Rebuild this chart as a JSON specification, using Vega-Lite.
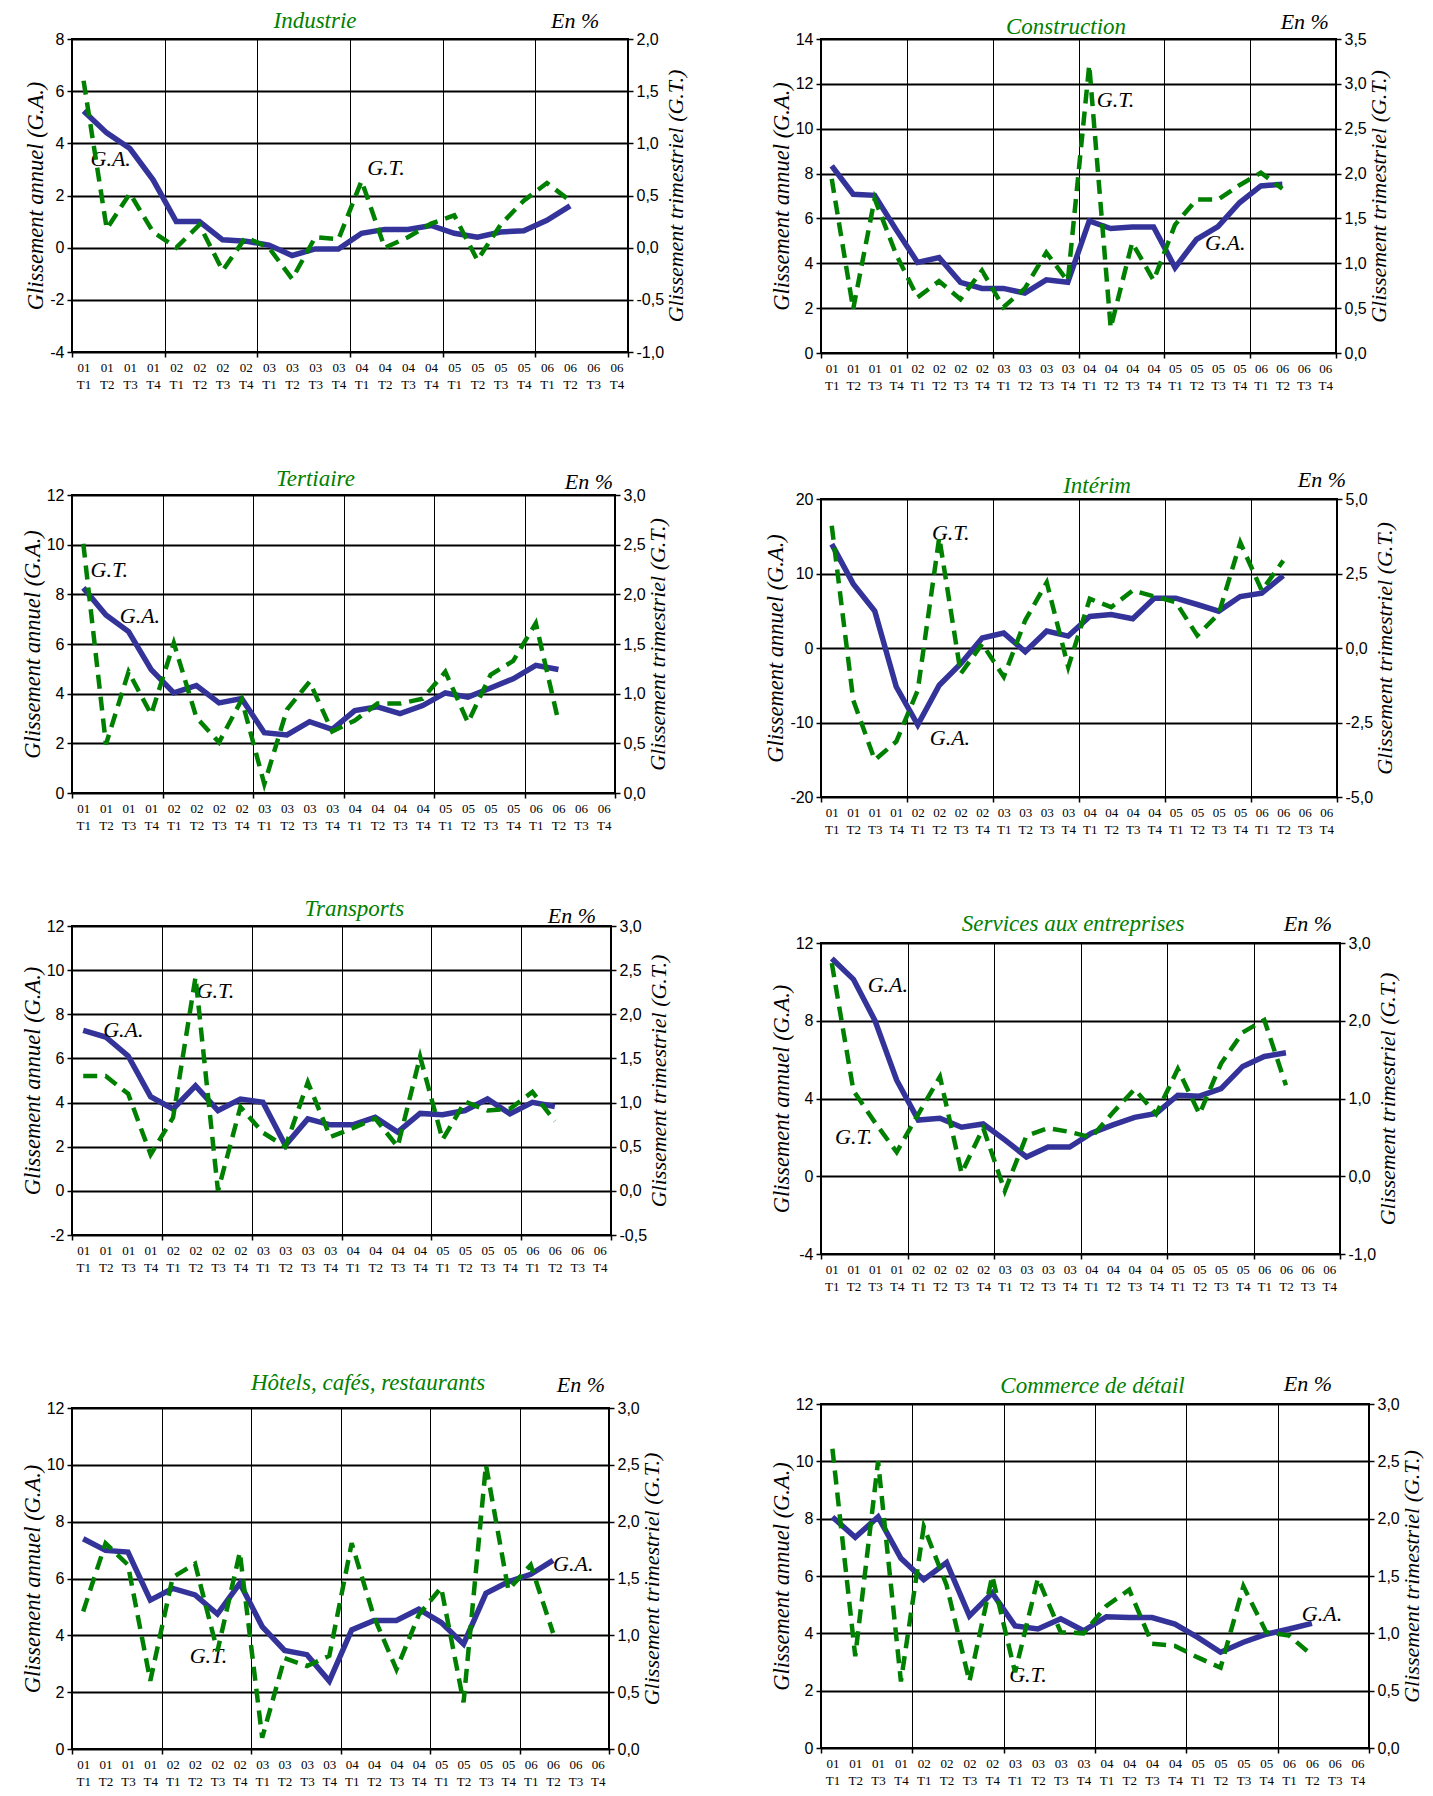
{
"$schema": "https://vega.github.io/schema/vega-lite/v6.json",
"background": "white",
"padding": {"left": 20, "top": 9, "right": 5, "bottom": 5},
"datasets": {
"industrie": [
{"q":"01 T1","i":0,"ga":5.24,"gt":1.6},{"q":"01 T2","i":1,"ga":4.4,"gt":0.18},{"q":"01 T3","i":2,"ga":3.8,"gt":0.52},{"q":"01 T4","i":3,"ga":2.6,"gt":0.15},
{"q":"02 T1","i":4,"ga":1.0,"gt":0.0},{"q":"02 T2","i":5,"ga":1.0,"gt":0.22},{"q":"02 T3","i":6,"ga":0.3,"gt":-0.22},{"q":"02 T4","i":7,"ga":0.25,"gt":0.1},
{"q":"03 T1","i":8,"ga":0.1,"gt":0.0},{"q":"03 T2","i":9,"ga":-0.3,"gt":-0.3},{"q":"03 T3","i":10,"ga":-0.05,"gt":0.1},{"q":"03 T4","i":11,"ga":-0.05,"gt":0.08},
{"q":"04 T1","i":12,"ga":0.55,"gt":0.64},{"q":"04 T2","i":13,"ga":0.7,"gt":0.0},{"q":"04 T3","i":14,"ga":0.7,"gt":0.1},{"q":"04 T4","i":15,"ga":0.85,"gt":0.23},
{"q":"05 T1","i":16,"ga":0.55,"gt":0.31},{"q":"05 T2","i":17,"ga":0.4,"gt":-0.12},{"q":"05 T3","i":18,"ga":0.6,"gt":0.22},{"q":"05 T4","i":19,"ga":0.65,"gt":0.45},
{"q":"06 T1","i":20,"ga":1.05,"gt":0.62},{"q":"06 T2","i":21,"ga":1.6,"gt":0.45}],
"construction": [
{"q":"01 T1","i":0,"ga":8.34,"gt":1.94},{"q":"01 T2","i":1,"ga":7.08,"gt":0.49},{"q":"01 T3","i":2,"ga":7.03,"gt":1.72},{"q":"01 T4","i":3,"ga":5.5,"gt":1.1},
{"q":"02 T1","i":4,"ga":4.04,"gt":0.62},{"q":"02 T2","i":5,"ga":4.26,"gt":0.8},{"q":"02 T3","i":6,"ga":3.15,"gt":0.6},{"q":"02 T4","i":7,"ga":2.88,"gt":0.92},
{"q":"03 T1","i":8,"ga":2.88,"gt":0.51},{"q":"03 T2","i":9,"ga":2.67,"gt":0.72},{"q":"03 T3","i":10,"ga":3.26,"gt":1.12},{"q":"03 T4","i":11,"ga":3.15,"gt":0.8},
{"q":"04 T1","i":12,"ga":5.89,"gt":3.21},{"q":"04 T2","i":13,"ga":5.55,"gt":0.28},{"q":"04 T3","i":14,"ga":5.62,"gt":1.23},{"q":"04 T4","i":15,"ga":5.62,"gt":0.81},
{"q":"05 T1","i":16,"ga":3.81,"gt":1.43},{"q":"05 T2","i":17,"ga":5.07,"gt":1.71},{"q":"05 T3","i":18,"ga":5.64,"gt":1.71},{"q":"05 T4","i":19,"ga":6.7,"gt":1.87},
{"q":"06 T1","i":20,"ga":7.45,"gt":2.01},{"q":"06 T2","i":21,"ga":7.52,"gt":1.83}],
"tertiaire": [
{"q":"01 T1","i":0,"ga":8.26,"gt":2.51},{"q":"01 T2","i":1,"ga":7.17,"gt":0.49},{"q":"01 T3","i":2,"ga":6.5,"gt":1.22},{"q":"01 T4","i":3,"ga":4.97,"gt":0.79},
{"q":"02 T1","i":4,"ga":4.03,"gt":1.51},{"q":"02 T2","i":5,"ga":4.33,"gt":0.76},{"q":"02 T3","i":6,"ga":3.63,"gt":0.51},{"q":"02 T4","i":7,"ga":3.8,"gt":0.94},
{"q":"03 T1","i":8,"ga":2.43,"gt":0.09},{"q":"03 T2","i":9,"ga":2.34,"gt":0.84},{"q":"03 T3","i":10,"ga":2.87,"gt":1.12},{"q":"03 T4","i":11,"ga":2.56,"gt":0.62},
{"q":"04 T1","i":12,"ga":3.32,"gt":0.73},{"q":"04 T2","i":13,"ga":3.47,"gt":0.9},{"q":"04 T3","i":14,"ga":3.2,"gt":0.9},{"q":"04 T4","i":15,"ga":3.52,"gt":0.95},
{"q":"05 T1","i":16,"ga":4.03,"gt":1.22},{"q":"05 T2","i":17,"ga":3.86,"gt":0.71},{"q":"05 T3","i":18,"ga":4.23,"gt":1.19},{"q":"05 T4","i":19,"ga":4.6,"gt":1.33},
{"q":"06 T1","i":20,"ga":5.14,"gt":1.71},{"q":"06 T2","i":21,"ga":4.97,"gt":0.72}],
"interim": [
{"q":"01 T1","i":0,"ga":13.95,"gt":4.1},{"q":"01 T2","i":1,"ga":8.6,"gt":-1.75},{"q":"01 T3","i":2,"ga":4.95,"gt":-3.76},{"q":"01 T4","i":3,"ga":-5.2,"gt":-3.14},
{"q":"02 T1","i":4,"ga":-10.3,"gt":-1.42},{"q":"02 T2","i":5,"ga":-5.0,"gt":3.71},{"q":"02 T3","i":6,"ga":-2.1,"gt":-0.86},{"q":"02 T4","i":7,"ga":1.34,"gt":0.14},
{"q":"03 T1","i":8,"ga":2.0,"gt":-0.97},{"q":"03 T2","i":9,"ga":-0.5,"gt":0.93},{"q":"03 T3","i":10,"ga":2.27,"gt":2.2},{"q":"03 T4","i":11,"ga":1.6,"gt":-0.64},
{"q":"04 T1","i":12,"ga":4.24,"gt":1.65},{"q":"04 T2","i":13,"ga":4.5,"gt":1.37},{"q":"04 T3","i":14,"ga":3.92,"gt":1.93},{"q":"04 T4","i":15,"ga":6.69,"gt":1.73},
{"q":"05 T1","i":16,"ga":6.69,"gt":1.54},{"q":"05 T2","i":17,"ga":5.84,"gt":0.42},{"q":"05 T3","i":18,"ga":4.95,"gt":1.15},{"q":"05 T4","i":19,"ga":6.9,"gt":3.54},
{"q":"06 T1","i":20,"ga":7.36,"gt":1.93},{"q":"06 T2","i":21,"ga":9.72,"gt":2.93}],
"transports": [
{"q":"01 T1","i":0,"ga":7.27,"gt":1.3},{"q":"01 T2","i":1,"ga":6.97,"gt":1.3},{"q":"01 T3","i":2,"ga":6.11,"gt":1.1},{"q":"01 T4","i":3,"ga":4.27,"gt":0.41},
{"q":"02 T1","i":4,"ga":3.71,"gt":0.83},{"q":"02 T2","i":5,"ga":4.76,"gt":2.42},{"q":"02 T3","i":6,"ga":3.64,"gt":0.0},{"q":"02 T4","i":7,"ga":4.16,"gt":0.95},
{"q":"03 T1","i":8,"ga":4.01,"gt":0.66},{"q":"03 T2","i":9,"ga":2.06,"gt":0.5},{"q":"03 T3","i":10,"ga":3.26,"gt":1.23},{"q":"03 T4","i":11,"ga":2.99,"gt":0.61},
{"q":"04 T1","i":12,"ga":2.99,"gt":0.71},{"q":"04 T2","i":13,"ga":3.33,"gt":0.82},{"q":"04 T3","i":14,"ga":2.66,"gt":0.5},{"q":"04 T4","i":15,"ga":3.51,"gt":1.52},
{"q":"05 T1","i":16,"ga":3.45,"gt":0.58},{"q":"05 T2","i":17,"ga":3.64,"gt":1.01},{"q":"05 T3","i":18,"ga":4.16,"gt":0.91},{"q":"05 T4","i":19,"ga":3.49,"gt":0.93},
{"q":"06 T1","i":20,"ga":4.01,"gt":1.12},{"q":"06 T2","i":21,"ga":3.82,"gt":0.79}],
"services": [
{"q":"01 T1","i":0,"ga":11.2,"gt":2.74},{"q":"01 T2","i":1,"ga":10.13,"gt":1.1},{"q":"01 T3","i":2,"ga":8.0,"gt":0.69},{"q":"01 T4","i":3,"ga":4.94,"gt":0.31},
{"q":"02 T1","i":4,"ga":2.89,"gt":0.8},{"q":"02 T2","i":5,"ga":2.98,"gt":1.28},{"q":"02 T3","i":6,"ga":2.52,"gt":0.04},{"q":"02 T4","i":7,"ga":2.69,"gt":0.62},
{"q":"03 T1","i":8,"ga":1.87,"gt":-0.19},{"q":"03 T2","i":9,"ga":0.99,"gt":0.52},{"q":"03 T3","i":10,"ga":1.5,"gt":0.62},{"q":"03 T4","i":11,"ga":1.5,"gt":0.57},
{"q":"04 T1","i":12,"ga":2.21,"gt":0.5},{"q":"04 T2","i":13,"ga":2.64,"gt":0.82},{"q":"04 T3","i":14,"ga":3.03,"gt":1.12},{"q":"04 T4","i":15,"ga":3.23,"gt":0.8},
{"q":"05 T1","i":16,"ga":4.17,"gt":1.38},{"q":"05 T2","i":17,"ga":4.12,"gt":0.8},{"q":"05 T3","i":18,"ga":4.51,"gt":1.45},{"q":"05 T4","i":19,"ga":5.65,"gt":1.85},
{"q":"06 T1","i":20,"ga":6.16,"gt":2.01},{"q":"06 T2","i":21,"ga":6.35,"gt":1.17}],
"hotels": [
{"q":"01 T1","i":0,"ga":7.4,"gt":1.21},{"q":"01 T2","i":1,"ga":6.99,"gt":1.81},{"q":"01 T3","i":2,"ga":6.93,"gt":1.62},{"q":"01 T4","i":3,"ga":5.24,"gt":0.6},
{"q":"02 T1","i":4,"ga":5.65,"gt":1.51},{"q":"02 T2","i":5,"ga":5.42,"gt":1.63},{"q":"02 T3","i":6,"ga":4.75,"gt":0.86},{"q":"02 T4","i":7,"ga":5.83,"gt":1.73},
{"q":"03 T1","i":8,"ga":4.31,"gt":0.1},{"q":"03 T2","i":9,"ga":3.47,"gt":0.8},{"q":"03 T3","i":10,"ga":3.32,"gt":0.73},{"q":"03 T4","i":11,"ga":2.39,"gt":0.82},
{"q":"04 T1","i":12,"ga":4.19,"gt":1.81},{"q":"04 T2","i":13,"ga":4.52,"gt":1.16},{"q":"04 T3","i":14,"ga":4.52,"gt":0.7},{"q":"04 T4","i":15,"ga":4.92,"gt":1.18},
{"q":"05 T1","i":16,"ga":4.45,"gt":1.42},{"q":"05 T2","i":17,"ga":3.69,"gt":0.41},{"q":"05 T3","i":18,"ga":5.48,"gt":2.5},{"q":"05 T4","i":19,"ga":5.88,"gt":1.4},
{"q":"06 T1","i":20,"ga":6.15,"gt":1.62},{"q":"06 T2","i":21,"ga":6.64,"gt":1.02}],
"commerce": [
{"q":"01 T1","i":0,"ga":8.06,"gt":2.61},{"q":"01 T2","i":1,"ga":7.35,"gt":0.8},{"q":"01 T3","i":2,"ga":8.06,"gt":2.5},{"q":"01 T4","i":3,"ga":6.62,"gt":0.58},
{"q":"02 T1","i":4,"ga":5.87,"gt":1.93},{"q":"02 T2","i":5,"ga":6.47,"gt":1.42},{"q":"02 T3","i":6,"ga":4.61,"gt":0.58},{"q":"02 T4","i":7,"ga":5.41,"gt":1.5},
{"q":"03 T1","i":8,"ga":4.26,"gt":0.66},{"q":"03 T2","i":9,"ga":4.15,"gt":1.48},{"q":"03 T3","i":10,"ga":4.51,"gt":1.01},{"q":"03 T4","i":11,"ga":4.09,"gt":1.0},
{"q":"04 T1","i":12,"ga":4.58,"gt":1.24},{"q":"04 T2","i":13,"ga":4.55,"gt":1.38},{"q":"04 T3","i":14,"ga":4.55,"gt":0.91},{"q":"04 T4","i":15,"ga":4.32,"gt":0.89},
{"q":"05 T1","i":16,"ga":3.86,"gt":0.79},{"q":"05 T2","i":17,"ga":3.34,"gt":0.7},{"q":"05 T3","i":18,"ga":3.69,"gt":1.41},{"q":"05 T4","i":19,"ga":3.97,"gt":1.01},
{"q":"06 T1","i":20,"ga":4.15,"gt":0.98},{"q":"06 T2","i":21,"ga":4.35,"gt":0.81}]
},
"spacing": 75,
"hconcat": [
{"spacing": 64, "vconcat": [
{"width": 556, "height": 313,
 "data": {"name": "industrie"},
 "encoding": {"x": {"field": "i", "type": "quantitative", "scale": {"domain": [-0.5, 23.5], "nice": false, "zero": false},
   "axis": {"orient": "bottom", "values": [-0.5,0,1,2,3,3.5,4,5,6,7,7.5,8,9,10,11,11.5,12,13,14,15,15.5,16,17,18,19,19.5,20,21,22,23,23.5],
     "labelExpr": "datum.value % 1 === 0 ? ['0' + (floor(datum.value / 4) + 1), 'T' + (datum.value % 4 + 1)] : ''",
     "labelOverlap": false, "labelBound": false, "labelFlush": false, "labelFont": "Liberation Serif", "labelFontSize": 13, "labelLineHeight": 17, "labelBaseline": "top", "labelPadding": 4,
     "grid": true, "gridWidth": 1, "gridOpacity": {"condition": {"test": "datum.value % 1 !== 0", "value": 1}, "value": 0},
     "tickOpacity": {"condition": {"test": "datum.value % 1 !== 0", "value": 1}, "value": 0},
     "title": " ", "titleFontSize": 1, "titlePadding": 10}}},
 "layer": [
  {"layer": [
    {"mark": {"type": "line", "color": "#333399", "strokeWidth": 5.5},
     "encoding": {"y": {"field": "ga", "type": "quantitative", "scale": {"domain": [-4, 8], "nice": false, "zero": false},
        "axis": {"orient": "left", "values": [-4,-2,0,2,4,6,8], "labelExpr": "'' + datum.value", "title": "Glissement annuel (G.A.)", "grid": true}}}},
    {"data": {"values": [{"t": "G.A.", "i": 0.3, "ga": 3.4}, {"t": "G.T.", "i": 12.24, "ga": 3.05}]},
     "mark": {"type": "text", "align": "left", "baseline": "middle"},
     "encoding": {"y": {"field": "ga", "type": "quantitative"}, "text": {"field": "t"}}},
    {"data": {"values": [{"t": "En %", "i": 22.26, "ga": 8}]},
     "mark": {"type": "text", "align": "right", "baseline": "alphabetic", "dy": -11, "fontSize": 22},
     "encoding": {"y": {"field": "ga", "type": "quantitative"}, "text": {"field": "t"}}},
    {"data": {"values": [{"t": "Industrie", "i": 9.99, "ga": 8}]},
     "mark": {"type": "text", "align": "center", "baseline": "alphabetic", "dy": -11, "fontSize": 23, "color": "#008000"},
     "encoding": {"y": {"field": "ga", "type": "quantitative"}, "text": {"field": "t"}}}
  ]},
  {"mark": {"type": "line", "color": "#008000", "strokeWidth": 4.5, "strokeDash": [14, 8]},
   "encoding": {"y": {"field": "gt", "type": "quantitative", "scale": {"domain": [-1, 2], "nice": false, "zero": false},
      "axis": {"orient": "right", "values": [-1,-0.5,0,0.5,1,1.5,2], "labelExpr": "(datum.value < 0 ? '-' : '') + replace(format(abs(datum.value), '.1f'), '.', ',')", "title": "Glissement trimestriel (G.T.)", "titleAngle": 270, "titleBaseline": "top", "titleFontSize": 22, "grid": false}}}}
 ],
 "resolve": {"scale": {"y": "independent"}}
},
{"width": 543, "height": 298,
 "data": {"name": "tertiaire"},
 "encoding": {"x": {"field": "i", "type": "quantitative", "scale": {"domain": [-0.5, 23.5], "nice": false, "zero": false},
   "axis": {"orient": "bottom", "values": [-0.5,0,1,2,3,3.5,4,5,6,7,7.5,8,9,10,11,11.5,12,13,14,15,15.5,16,17,18,19,19.5,20,21,22,23,23.5],
     "labelExpr": "datum.value % 1 === 0 ? ['0' + (floor(datum.value / 4) + 1), 'T' + (datum.value % 4 + 1)] : ''",
     "labelOverlap": false, "labelBound": false, "labelFlush": false, "labelFont": "Liberation Serif", "labelFontSize": 13, "labelLineHeight": 17, "labelBaseline": "top", "labelPadding": 4,
     "grid": true, "gridWidth": 1, "gridOpacity": {"condition": {"test": "datum.value % 1 !== 0", "value": 1}, "value": 0},
     "tickOpacity": {"condition": {"test": "datum.value % 1 !== 0", "value": 1}, "value": 0},
     "title": null}}},
 "layer": [
  {"layer": [
    {"mark": {"type": "line", "color": "#333399", "strokeWidth": 5.5},
     "encoding": {"y": {"field": "ga", "type": "quantitative", "scale": {"domain": [0, 12], "nice": false, "zero": false},
        "axis": {"orient": "left", "values": [0,2,4,6,8,10,12], "labelExpr": "'' + datum.value", "title": "Glissement annuel (G.A.)", "grid": true}}}},
    {"data": {"values": [{"t": "G.T.", "i": 0.32, "ga": 8.97}, {"t": "G.A.", "i": 1.61, "ga": 7.13}]},
     "mark": {"type": "text", "align": "left", "baseline": "middle"},
     "encoding": {"y": {"field": "ga", "type": "quantitative"}, "text": {"field": "t"}}},
    {"data": {"values": [{"t": "En %", "i": 23.41, "ga": 12}]},
     "mark": {"type": "text", "align": "right", "baseline": "alphabetic", "dy": -6, "fontSize": 22},
     "encoding": {"y": {"field": "ga", "type": "quantitative"}, "text": {"field": "t"}}},
    {"data": {"values": [{"t": "Tertiaire", "i": 10.26, "ga": 12}]},
     "mark": {"type": "text", "align": "center", "baseline": "alphabetic", "dy": -9, "fontSize": 23, "color": "#008000"},
     "encoding": {"y": {"field": "ga", "type": "quantitative"}, "text": {"field": "t"}}}
  ]},
  {"mark": {"type": "line", "color": "#008000", "strokeWidth": 4.5, "strokeDash": [14, 8]},
   "encoding": {"y": {"field": "gt", "type": "quantitative", "scale": {"domain": [0, 3], "nice": false, "zero": false},
      "axis": {"orient": "right", "values": [0,0.5,1,1.5,2,2.5,3], "labelExpr": "(datum.value < 0 ? '-' : '') + replace(format(abs(datum.value), '.1f'), '.', ',')", "title": "Glissement trimestriel (G.T.)", "titleAngle": 270, "titleBaseline": "top", "titleFontSize": 22, "grid": false}}}}
 ],
 "resolve": {"scale": {"y": "independent"}}
},
{"width": 539, "height": 309,
 "data": {"name": "transports"},
 "encoding": {"x": {"field": "i", "type": "quantitative", "scale": {"domain": [-0.5, 23.5], "nice": false, "zero": false},
   "axis": {"orient": "bottom", "values": [-0.5,0,1,2,3,3.5,4,5,6,7,7.5,8,9,10,11,11.5,12,13,14,15,15.5,16,17,18,19,19.5,20,21,22,23,23.5],
     "labelExpr": "datum.value % 1 === 0 ? ['0' + (floor(datum.value / 4) + 1), 'T' + (datum.value % 4 + 1)] : ''",
     "labelOverlap": false, "labelBound": false, "labelFlush": false, "labelFont": "Liberation Serif", "labelFontSize": 13, "labelLineHeight": 17, "labelBaseline": "top", "labelPadding": 4,
     "grid": true, "gridWidth": 1, "gridOpacity": {"condition": {"test": "datum.value % 1 !== 0", "value": 1}, "value": 0},
     "tickOpacity": {"condition": {"test": "datum.value % 1 !== 0", "value": 1}, "value": 0},
     "title": " ", "titleFontSize": 1, "titlePadding": 31}}},
 "layer": [
  {"layer": [
    {"mark": {"type": "line", "color": "#333399", "strokeWidth": 5.5},
     "encoding": {"y": {"field": "ga", "type": "quantitative", "scale": {"domain": [-2, 12], "nice": false, "zero": false},
        "axis": {"orient": "left", "values": [-2,0,2,4,6,8,10,12], "labelExpr": "'' + datum.value", "title": "Glissement annuel (G.A.)", "grid": true}}}},
    {"data": {"values": [{"t": "G.A.", "i": 0.89, "ga": 7.3}, {"t": "G.T.", "i": 5.05, "ga": 9.04}]},
     "mark": {"type": "text", "align": "left", "baseline": "middle"},
     "encoding": {"y": {"field": "ga", "type": "quantitative"}, "text": {"field": "t"}}},
    {"data": {"values": [{"t": "En %", "i": 22.83, "ga": 12}]},
     "mark": {"type": "text", "align": "right", "baseline": "alphabetic", "dy": -3, "fontSize": 22},
     "encoding": {"y": {"field": "ga", "type": "quantitative"}, "text": {"field": "t"}}},
    {"data": {"values": [{"t": "Transports", "i": 12.07, "ga": 12}]},
     "mark": {"type": "text", "align": "center", "baseline": "alphabetic", "dy": -10, "fontSize": 23, "color": "#008000"},
     "encoding": {"y": {"field": "ga", "type": "quantitative"}, "text": {"field": "t"}}}
  ]},
  {"mark": {"type": "line", "color": "#008000", "strokeWidth": 4.5, "strokeDash": [14, 8]},
   "encoding": {"y": {"field": "gt", "type": "quantitative", "scale": {"domain": [-0.5, 3], "nice": false, "zero": false},
      "axis": {"orient": "right", "values": [-0.5,0,0.5,1,1.5,2,2.5,3], "labelExpr": "(datum.value < 0 ? '-' : '') + replace(format(abs(datum.value), '.1f'), '.', ',')", "title": "Glissement trimestriel (G.T.)", "titleAngle": 270, "titleBaseline": "top", "titleFontSize": 22, "grid": false}}}}
 ],
 "resolve": {"scale": {"y": "independent"}}
},
{"width": 537, "height": 341,
 "data": {"name": "hotels"},
 "encoding": {"x": {"field": "i", "type": "quantitative", "scale": {"domain": [-0.5, 23.5], "nice": false, "zero": false},
   "axis": {"orient": "bottom", "values": [-0.5,0,1,2,3,3.5,4,5,6,7,7.5,8,9,10,11,11.5,12,13,14,15,15.5,16,17,18,19,19.5,20,21,22,23,23.5],
     "labelExpr": "datum.value % 1 === 0 ? ['0' + (floor(datum.value / 4) + 1), 'T' + (datum.value % 4 + 1)] : ''",
     "labelOverlap": false, "labelBound": false, "labelFlush": false, "labelFont": "Liberation Serif", "labelFontSize": 13, "labelLineHeight": 17, "labelBaseline": "top", "labelPadding": 4,
     "grid": true, "gridWidth": 1, "gridOpacity": {"condition": {"test": "datum.value % 1 !== 0", "value": 1}, "value": 0},
     "tickOpacity": {"condition": {"test": "datum.value % 1 !== 0", "value": 1}, "value": 0},
     "title": null}}},
 "layer": [
  {"layer": [
    {"mark": {"type": "line", "color": "#333399", "strokeWidth": 5.5},
     "encoding": {"y": {"field": "ga", "type": "quantitative", "scale": {"domain": [0, 12], "nice": false, "zero": false},
        "axis": {"orient": "left", "values": [0,2,4,6,8,10,12], "labelExpr": "'' + datum.value", "title": "Glissement annuel (G.A.)", "grid": true}}}},
    {"data": {"values": [{"t": "G.T.", "i": 4.76, "ga": 3.26}, {"t": "G.A.", "i": 21.0, "ga": 6.52}]},
     "mark": {"type": "text", "align": "left", "baseline": "middle"},
     "encoding": {"y": {"field": "ga", "type": "quantitative"}, "text": {"field": "t"}}},
    {"data": {"values": [{"t": "En %", "i": 23.32, "ga": 12}]},
     "mark": {"type": "text", "align": "right", "baseline": "alphabetic", "dy": -16, "fontSize": 22},
     "encoding": {"y": {"field": "ga", "type": "quantitative"}, "text": {"field": "t"}}},
    {"data": {"values": [{"t": "Hôtels, cafés, restaurants", "i": 12.73, "ga": 12}]},
     "mark": {"type": "text", "align": "center", "baseline": "alphabetic", "dy": -18, "fontSize": 23, "color": "#008000"},
     "encoding": {"y": {"field": "ga", "type": "quantitative"}, "text": {"field": "t"}}}
  ]},
  {"mark": {"type": "line", "color": "#008000", "strokeWidth": 4.5, "strokeDash": [14, 8]},
   "encoding": {"y": {"field": "gt", "type": "quantitative", "scale": {"domain": [0, 3], "nice": false, "zero": false},
      "axis": {"orient": "right", "values": [0,0.5,1,1.5,2,2.5,3], "labelExpr": "(datum.value < 0 ? '-' : '') + replace(format(abs(datum.value), '.1f'), '.', ',')", "title": "Glissement trimestriel (G.T.)", "titleAngle": 270, "titleBaseline": "top", "titleFontSize": 22, "grid": false}}}}
 ],
 "resolve": {"scale": {"y": "independent"}}
}
]},
{"spacing": 75, "vconcat": [
{"width": 515, "height": 314,
 "data": {"name": "construction"},
 "encoding": {"x": {"field": "i", "type": "quantitative", "scale": {"domain": [-0.5, 23.5], "nice": false, "zero": false},
   "axis": {"orient": "bottom", "values": [-0.5,0,1,2,3,3.5,4,5,6,7,7.5,8,9,10,11,11.5,12,13,14,15,15.5,16,17,18,19,19.5,20,21,22,23,23.5],
     "labelExpr": "datum.value % 1 === 0 ? ['0' + (floor(datum.value / 4) + 1), 'T' + (datum.value % 4 + 1)] : ''",
     "labelOverlap": false, "labelBound": false, "labelFlush": false, "labelFont": "Liberation Serif", "labelFontSize": 13, "labelLineHeight": 17, "labelBaseline": "top", "labelPadding": 4,
     "grid": true, "gridWidth": 1, "gridOpacity": {"condition": {"test": "datum.value % 1 !== 0", "value": 1}, "value": 0},
     "tickOpacity": {"condition": {"test": "datum.value % 1 !== 0", "value": 1}, "value": 0},
     "title": null}}},
 "layer": [
  {"layer": [
    {"mark": {"type": "line", "color": "#333399", "strokeWidth": 5.5},
     "encoding": {"y": {"field": "ga", "type": "quantitative", "scale": {"domain": [0, 14], "nice": false, "zero": false},
        "axis": {"orient": "left", "values": [0,2,4,6,8,10,12,14], "labelExpr": "'' + datum.value", "title": "Glissement annuel (G.A.)", "grid": true}}}},
    {"data": {"values": [{"t": "G.T.", "i": 12.35, "ga": 11.3}, {"t": "G.A.", "i": 17.4, "ga": 4.9}]},
     "mark": {"type": "text", "align": "left", "baseline": "middle"},
     "encoding": {"y": {"field": "ga", "type": "quantitative"}, "text": {"field": "t"}}},
    {"data": {"values": [{"t": "En %", "i": 23.17, "ga": 14}]},
     "mark": {"type": "text", "align": "right", "baseline": "alphabetic", "dy": -10, "fontSize": 22},
     "encoding": {"y": {"field": "ga", "type": "quantitative"}, "text": {"field": "t"}}},
    {"data": {"values": [{"t": "Construction", "i": 10.92, "ga": 14}]},
     "mark": {"type": "text", "align": "center", "baseline": "alphabetic", "dy": -5, "fontSize": 23, "color": "#008000"},
     "encoding": {"y": {"field": "ga", "type": "quantitative"}, "text": {"field": "t"}}}
  ]},
  {"mark": {"type": "line", "color": "#008000", "strokeWidth": 4.5, "strokeDash": [14, 8]},
   "encoding": {"y": {"field": "gt", "type": "quantitative", "scale": {"domain": [0, 3.5], "nice": false, "zero": false},
      "axis": {"orient": "right", "values": [0,0.5,1,1.5,2,2.5,3,3.5], "labelExpr": "(datum.value < 0 ? '-' : '') + replace(format(abs(datum.value), '.1f'), '.', ',')", "title": "Glissement trimestriel (G.T.)", "titleAngle": 270, "titleBaseline": "top", "titleFontSize": 22, "grid": false}}}}
 ],
 "resolve": {"scale": {"y": "independent"}}
},
{"width": 516, "height": 298,
 "data": {"name": "interim"},
 "encoding": {"x": {"field": "i", "type": "quantitative", "scale": {"domain": [-0.5, 23.5], "nice": false, "zero": false},
   "axis": {"orient": "bottom", "values": [-0.5,0,1,2,3,3.5,4,5,6,7,7.5,8,9,10,11,11.5,12,13,14,15,15.5,16,17,18,19,19.5,20,21,22,23,23.5],
     "labelExpr": "datum.value % 1 === 0 ? ['0' + (floor(datum.value / 4) + 1), 'T' + (datum.value % 4 + 1)] : ''",
     "labelOverlap": false, "labelBound": false, "labelFlush": false, "labelFont": "Liberation Serif", "labelFontSize": 13, "labelLineHeight": 17, "labelBaseline": "top", "labelPadding": 4,
     "grid": true, "gridWidth": 1, "gridOpacity": {"condition": {"test": "datum.value % 1 !== 0", "value": 1}, "value": 0},
     "tickOpacity": {"condition": {"test": "datum.value % 1 !== 0", "value": 1}, "value": 0},
     "title": null}}},
 "layer": [
  {"layer": [
    {"mark": {"type": "line", "color": "#333399", "strokeWidth": 5.5},
     "encoding": {"y": {"field": "ga", "type": "quantitative", "scale": {"domain": [-20, 20], "nice": false, "zero": false},
        "axis": {"orient": "left", "values": [-20,-10,0,10,20], "labelExpr": "'' + datum.value", "title": "Glissement annuel (G.A.)", "grid": true}}}},
    {"data": {"values": [{"t": "G.T.", "i": 4.66, "ga": 15.5}, {"t": "G.A.", "i": 4.56, "ga": -12.1}]},
     "mark": {"type": "text", "align": "left", "baseline": "middle"},
     "encoding": {"y": {"field": "ga", "type": "quantitative"}, "text": {"field": "t"}}},
    {"data": {"values": [{"t": "En %", "i": 23.92, "ga": 20}]},
     "mark": {"type": "text", "align": "right", "baseline": "alphabetic", "dy": -12, "fontSize": 22},
     "encoding": {"y": {"field": "ga", "type": "quantitative"}, "text": {"field": "t"}}},
    {"data": {"values": [{"t": "Intérim", "i": 12.34, "ga": 20}]},
     "mark": {"type": "text", "align": "center", "baseline": "alphabetic", "dy": -6, "fontSize": 23, "color": "#008000"},
     "encoding": {"y": {"field": "ga", "type": "quantitative"}, "text": {"field": "t"}}}
  ]},
  {"mark": {"type": "line", "color": "#008000", "strokeWidth": 4.5, "strokeDash": [14, 8]},
   "encoding": {"y": {"field": "gt", "type": "quantitative", "scale": {"domain": [-5, 5], "nice": false, "zero": false},
      "axis": {"orient": "right", "values": [-5,-2.5,0,2.5,5], "labelExpr": "(datum.value < 0 ? '-' : '') + replace(format(abs(datum.value), '.1f'), '.', ',')", "title": "Glissement trimestriel (G.T.)", "titleAngle": 270, "titleBaseline": "top", "titleFontSize": 22, "grid": false}}}}
 ],
 "resolve": {"scale": {"y": "independent"}}
},
{"width": 519, "height": 311,
 "data": {"name": "services"},
 "encoding": {"x": {"field": "i", "type": "quantitative", "scale": {"domain": [-0.5, 23.5], "nice": false, "zero": false},
   "axis": {"orient": "bottom", "values": [-0.5,0,1,2,3,3.5,4,5,6,7,7.5,8,9,10,11,11.5,12,13,14,15,15.5,16,17,18,19,19.5,20,21,22,23,23.5],
     "labelExpr": "datum.value % 1 === 0 ? ['0' + (floor(datum.value / 4) + 1), 'T' + (datum.value % 4 + 1)] : ''",
     "labelOverlap": false, "labelBound": false, "labelFlush": false, "labelFont": "Liberation Serif", "labelFontSize": 13, "labelLineHeight": 17, "labelBaseline": "top", "labelPadding": 4,
     "grid": true, "gridWidth": 1, "gridOpacity": {"condition": {"test": "datum.value % 1 !== 0", "value": 1}, "value": 0},
     "tickOpacity": {"condition": {"test": "datum.value % 1 !== 0", "value": 1}, "value": 0},
     "title": " ", "titleFontSize": 1, "titlePadding": 2}}},
 "layer": [
  {"layer": [
    {"mark": {"type": "line", "color": "#333399", "strokeWidth": 5.5},
     "encoding": {"y": {"field": "ga", "type": "quantitative", "scale": {"domain": [-4, 12], "nice": false, "zero": false},
        "axis": {"orient": "left", "values": [-4,0,4,8,12], "labelExpr": "'' + datum.value", "title": "Glissement annuel (G.A.)", "grid": true}}}},
    {"data": {"values": [{"t": "G.A.", "i": 1.66, "ga": 9.82}, {"t": "G.T.", "i": 0.15, "ga": 2.0}]},
     "mark": {"type": "text", "align": "left", "baseline": "middle"},
     "encoding": {"y": {"field": "ga", "type": "quantitative"}, "text": {"field": "t"}}},
    {"data": {"values": [{"t": "En %", "i": 23.13, "ga": 12}]},
     "mark": {"type": "text", "align": "right", "baseline": "alphabetic", "dy": -12, "fontSize": 22},
     "encoding": {"y": {"field": "ga", "type": "quantitative"}, "text": {"field": "t"}}},
    {"data": {"values": [{"t": "Services aux entreprises", "i": 11.16, "ga": 12}]},
     "mark": {"type": "text", "align": "center", "baseline": "alphabetic", "dy": -12, "fontSize": 23, "color": "#008000"},
     "encoding": {"y": {"field": "ga", "type": "quantitative"}, "text": {"field": "t"}}}
  ]},
  {"mark": {"type": "line", "color": "#008000", "strokeWidth": 4.5, "strokeDash": [14, 8]},
   "encoding": {"y": {"field": "gt", "type": "quantitative", "scale": {"domain": [-1, 3], "nice": false, "zero": false},
      "axis": {"orient": "right", "values": [-1,0,1,2,3], "labelExpr": "(datum.value < 0 ? '-' : '') + replace(format(abs(datum.value), '.1f'), '.', ',')", "title": "Glissement trimestriel (G.T.)", "titleAngle": 270, "titleBaseline": "top", "titleFontSize": 22, "grid": false}}}}
 ],
 "resolve": {"scale": {"y": "independent"}}
},
{"width": 548, "height": 344,
 "data": {"name": "commerce"},
 "encoding": {"x": {"field": "i", "type": "quantitative", "scale": {"domain": [-0.5, 23.5], "nice": false, "zero": false},
   "axis": {"orient": "bottom", "values": [-0.5,0,1,2,3,3.5,4,5,6,7,7.5,8,9,10,11,11.5,12,13,14,15,15.5,16,17,18,19,19.5,20,21,22,23,23.5],
     "labelExpr": "datum.value % 1 === 0 ? ['0' + (floor(datum.value / 4) + 1), 'T' + (datum.value % 4 + 1)] : ''",
     "labelOverlap": false, "labelBound": false, "labelFlush": false, "labelFont": "Liberation Serif", "labelFontSize": 13, "labelLineHeight": 17, "labelBaseline": "top", "labelPadding": 4,
     "grid": true, "gridWidth": 1, "gridOpacity": {"condition": {"test": "datum.value % 1 !== 0", "value": 1}, "value": 0},
     "tickOpacity": {"condition": {"test": "datum.value % 1 !== 0", "value": 1}, "value": 0},
     "title": null}}},
 "layer": [
  {"layer": [
    {"mark": {"type": "line", "color": "#333399", "strokeWidth": 5.5},
     "encoding": {"y": {"field": "ga", "type": "quantitative", "scale": {"domain": [0, 12], "nice": false, "zero": false},
        "axis": {"orient": "left", "values": [0,2,4,6,8,10,12], "labelExpr": "'' + datum.value", "title": "Glissement annuel (G.A.)", "grid": true}}}},
    {"data": {"values": [{"t": "G.T.", "i": 7.74, "ga": 2.53}, {"t": "G.A.", "i": 20.56, "ga": 4.66}]},
     "mark": {"type": "text", "align": "left", "baseline": "middle"},
     "encoding": {"y": {"field": "ga", "type": "quantitative"}, "text": {"field": "t"}}},
    {"data": {"values": [{"t": "En %", "i": 21.88, "ga": 12}]},
     "mark": {"type": "text", "align": "right", "baseline": "alphabetic", "dy": -13, "fontSize": 22},
     "encoding": {"y": {"field": "ga", "type": "quantitative"}, "text": {"field": "t"}}},
    {"data": {"values": [{"t": "Commerce de détail", "i": 11.39, "ga": 12}]},
     "mark": {"type": "text", "align": "center", "baseline": "alphabetic", "dy": -11, "fontSize": 23, "color": "#008000"},
     "encoding": {"y": {"field": "ga", "type": "quantitative"}, "text": {"field": "t"}}}
  ]},
  {"mark": {"type": "line", "color": "#008000", "strokeWidth": 4.5, "strokeDash": [14, 8]},
   "encoding": {"y": {"field": "gt", "type": "quantitative", "scale": {"domain": [0, 3], "nice": false, "zero": false},
      "axis": {"orient": "right", "values": [0,0.5,1,1.5,2,2.5,3], "labelExpr": "(datum.value < 0 ? '-' : '') + replace(format(abs(datum.value), '.1f'), '.', ',')", "title": "Glissement trimestriel (G.T.)", "titleAngle": 270, "titleBaseline": "top", "titleFontSize": 22, "grid": false}}}}
 ],
 "resolve": {"scale": {"y": "independent"}}
}
]}
],
"config": {
 "view": {"stroke": "black", "strokeWidth": 2},
 "axis": {"domain": false, "tickColor": "black", "tickWidth": 1.5, "tickSize": 5, "labelColor": "black", "titleColor": "black", "titleFont": "Liberation Serif", "titleFontStyle": "italic", "titleFontWeight": "normal", "titleFontSize": 22.5, "gridColor": "black", "titlePadding": 2},
 "axisX": {"labelOverlap": false},
 "axisY": {"labelFont": "Liberation Sans", "labelFontSize": 16, "labelPadding": 3, "gridWidth": 2, "gridOpacity": 1},
 "text": {"font": "Liberation Serif", "fontStyle": "italic", "fontSize": 22, "color": "black"},
 "line": {"strokeCap": "butt"}
}
}
